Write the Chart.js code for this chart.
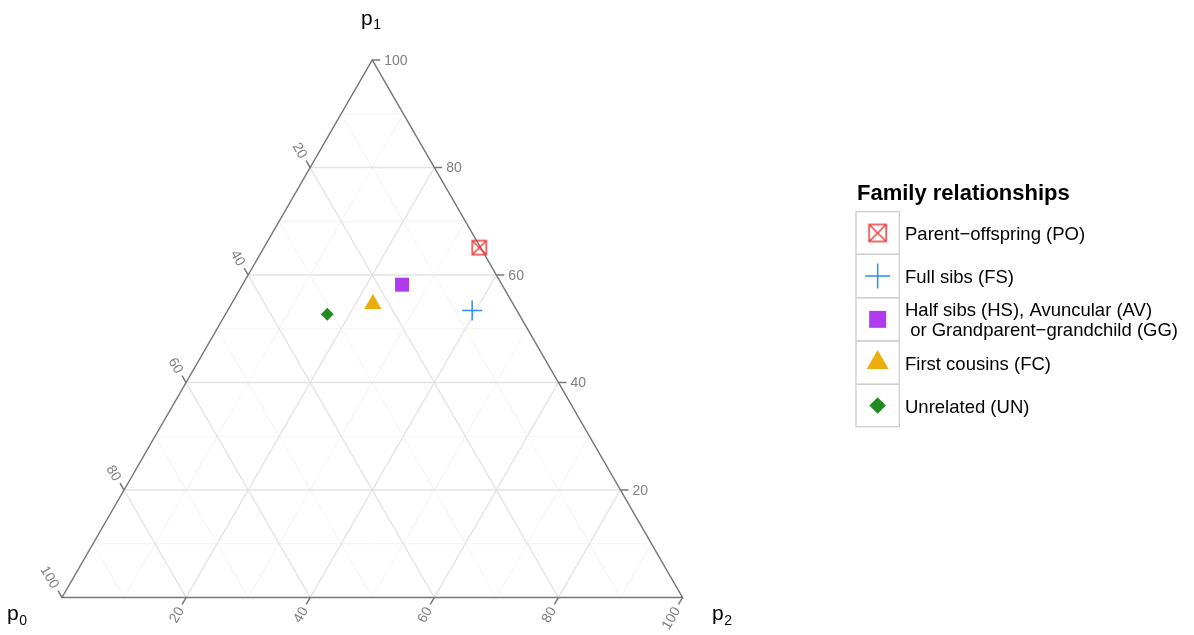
<!DOCTYPE html>
<html>
<head>
<meta charset="utf-8">
<title>Family relationships</title>
<script src="https://cdn.jsdelivr.net/npm/chart.js@4/dist/chart.umd.min.js"></script>
<style>
  html, body { margin: 0; background: #fff; }
  #wrap { width: 1194px; height: 635px; position: relative; }
</style>
</head>
<body>
<div id="wrap"><canvas id="tern"></canvas></div>
<script>
// Relationship categories and their (p0, p1, p2) percentages
const relCodes = ["PO", "FS", "HS", "FC", "UN"];
const relLabels = [
  ["Parent\u2212offspring (PO)"],
  ["Full sibs (FS)"],
  ["Half sibs (HS), Avuncular (AV)", " or Grandparent\u2212grandchild (GG)"],
  ["First cousins (FC)"],
  ["Unrelated (UN)"],
];
const p0Vals = [0.2, 7.2, 16.1, 22.6, 30.9];
const p1Vals = [65.1, 53.4, 58.2, 54.6, 52.7];
const p2Vals = [34.7, 39.4, 25.7, 22.8, 16.4];

const tickVals = [20, 40, 60, 80, 100];
const gridMajor = [20, 40, 60, 80];
const gridMinor = [10, 30, 50, 70, 90];

const relColors = ["#ee3b3b", "#2f8cee", "#b23aee", "#eead0e", "#228b22"];

const H = Math.sqrt(3) / 2;
const FONT = "'Liberation Sans', Arial, Helvetica, sans-serif";

// barycentric -> cartesian (x along base, y up), both in 0..100 units
function toXY(p0, p1, p2) {
  const s = p0 + p1 + p2;
  return { x: ((p2 + p1 / 2) / s) * 100, y: ((p1 * H) / s) * 100 };
}

// square with a diagonal cross, used for parent-offspring
function boxCrossImage(side, color, lw) {
  const pad = Math.ceil(lw);
  const c = document.createElement("canvas");
  c.width = c.height = side + 2 * pad;
  const g = c.getContext("2d");
  g.strokeStyle = color;
  g.lineWidth = lw;
  g.strokeRect(pad, pad, side, side);
  g.beginPath();
  g.moveTo(pad, pad);
  g.lineTo(pad + side, pad + side);
  g.moveTo(pad + side, pad);
  g.lineTo(pad, pad + side);
  g.stroke();
  return c;
}

const poMark = boxCrossImage(14, relColors[0], 1.5);
const poKey = boxCrossImage(17, relColors[0], 1.5);

const pointStyles = [poMark, "cross", "rect", "triangle", "rectRot"];
const pointSizes = [8, 10, 9.9, 10, 6.4];
const keyStyles = [poKey, "cross", "rect", "triangle", "rectRot"];
const keySizes = [10, 12.5, 12, 12.7, 8.3];

const datasets = relCodes.map((code, i) => {
  const isLine = code === "PO" || code === "FS";
  return {
    label: relLabels[i].join(""),
    data: [toXY(p0Vals[i], p1Vals[i], p2Vals[i])],
    pointStyle: pointStyles[i],
    pointRadius: pointSizes[i],
    pointHoverRadius: pointSizes[i],
    backgroundColor: isLine ? "rgba(0,0,0,0)" : relColors[i],
    borderColor: relColors[i],
    borderWidth: isLine ? 1.5 : 0,
    clip: false,
  };
});

// triangle frame, grid, ticks and axis titles
const ternaryFrame = {
  id: "ternaryFrame",
  beforeDatasetsDraw(chart) {
    const { ctx } = chart;
    const sx = chart.scales.x, sy = chart.scales.y;
    const px = (a, b, c) => {
      const p = toXY(a, b, c);
      return [sx.getPixelForValue(p.x), sy.getPixelForValue(p.y)];
    };
    const seg = (a, b) => {
      ctx.beginPath();
      ctx.moveTo(a[0], a[1]);
      ctx.lineTo(b[0], b[1]);
      ctx.stroke();
    };
    ctx.save();
    ctx.lineCap = "butt";

    [[gridMinor, "#f3f3f3", 1], [gridMajor, "#e3e3e3", 1.4]].forEach(([vals, col, w]) => {
      ctx.strokeStyle = col;
      ctx.lineWidth = w;
      vals.forEach((v) => {
        seg(px(100 - v, v, 0), px(0, v, 100 - v));
        seg(px(100 - v, 0, v), px(0, 100 - v, v));
        seg(px(v, 100 - v, 0), px(v, 0, 100 - v));
      });
    });

    const A = px(100, 0, 0), B = px(0, 100, 0), C = px(0, 0, 100);
    ctx.strokeStyle = "#777";
    ctx.lineWidth = 1.5;
    ctx.beginPath();
    ctx.moveTo(A[0], A[1]);
    ctx.lineTo(B[0], B[1]);
    ctx.lineTo(C[0], C[1]);
    ctx.closePath();
    ctx.stroke();

    const tickLen = 8;
    ctx.font = "14px " + FONT;
    ctx.fillStyle = "#7f7f7f";
    const axes = [
      { at: (v) => px(0, v, 100 - v), dir: [1, 0], rot: 0, align: "left" },           // p1, right edge
      { at: (v) => px(100 - v, 0, v), dir: [-0.5, H], rot: -Math.PI / 3, align: "right" }, // p2, base
      { at: (v) => px(v, 100 - v, 0), dir: [-0.5, -H], rot: Math.PI / 3, align: "right" }, // p0, left edge
    ];
    axes.forEach((ax) => {
      tickVals.forEach((v) => {
        const s = ax.at(v);
        const e = [s[0] + ax.dir[0] * tickLen, s[1] + ax.dir[1] * tickLen];
        seg(s, e);
        const gap = 4;
        const t = [e[0] + ax.dir[0] * gap, e[1] + ax.dir[1] * gap];
        ctx.save();
        ctx.translate(t[0], t[1]);
        ctx.rotate(ax.rot);
        ctx.textAlign = ax.align;
        ctx.textBaseline = "middle";
        ctx.fillText(String(v), 0, 1);
        ctx.restore();
      });
    });

    // axis titles with subscripts
    ctx.fillStyle = "#000";
    ctx.textAlign = "left";
    ctx.textBaseline = "alphabetic";
    const title = (x, y, sub) => {
      ctx.font = "21px " + FONT;
      ctx.fillText("p", x, y);
      const w = ctx.measureText("p").width;
      ctx.font = "14px " + FONT;
      ctx.fillText(sub, x + w + 0.5, y + 4.5);
    };
    title(361, 24.5, "1");
    title(7, 620, "0");
    title(712, 620, "2");
    ctx.restore();
  },
};

// legend drawn to the right of the triangle
const relLegend = {
  id: "relLegend",
  afterDraw(chart) {
    const { ctx } = chart;
    const drawPoint = Chart.helpers.drawPoint;
    const rows = [211.7, 254.3, 297.7, 341, 384.3, 426.7];
    const boxL = 856, boxR = 899.3, keyX = (boxL + boxR) / 2;
    ctx.save();
    ctx.fillStyle = "#000";
    ctx.font = "bold 22px " + FONT;
    ctx.textAlign = "left";
    ctx.textBaseline = "alphabetic";
    ctx.fillText("Family relationships", 857, 200);

    ctx.strokeStyle = "#cfcfcf";
    ctx.lineWidth = 1.3;
    for (let i = 0; i < relCodes.length; i++) {
      ctx.strokeRect(boxL, rows[i], boxR - boxL, rows[i + 1] - rows[i]);
    }

    for (let i = 0; i < relCodes.length; i++) {
      const cy = (rows[i] + rows[i + 1]) / 2;
      const isLine = i < 2;
      ctx.fillStyle = isLine ? "rgba(0,0,0,0)" : relColors[i];
      ctx.strokeStyle = relColors[i];
      ctx.lineWidth = 1.5;
      drawPoint(ctx, {
        pointStyle: keyStyles[i],
        radius: keySizes[i],
        rotation: 0,
        borderWidth: isLine ? 1.5 : 0,
      }, keyX, cy);

      ctx.fillStyle = "#000";
      ctx.font = "18.5px " + FONT;
      const lines = relLabels[i];
      const lh = 20;
      const first = cy + 7 - ((lines.length - 1) * lh) / 2;
      lines.forEach((txt, k) => ctx.fillText(txt, 905, first + k * lh));
    }
    ctx.restore();
  },
};

new Chart(document.getElementById("tern"), {
  type: "scatter",
  data: { datasets },
  options: {
    responsive: true,
    maintainAspectRatio: false,
    animation: false,
    layout: { padding: { left: 62, right: 511.5, top: 60, bottom: 37.5 } },
    scales: {
      x: { type: "linear", min: 0, max: 100, display: false },
      y: { type: "linear", min: 0, max: 100 * H, display: false },
    },
    plugins: {
      legend: { display: false },
      tooltip: { enabled: false },
    },
  },
  plugins: [ternaryFrame, relLegend],
});
</script>
</body>
</html>
